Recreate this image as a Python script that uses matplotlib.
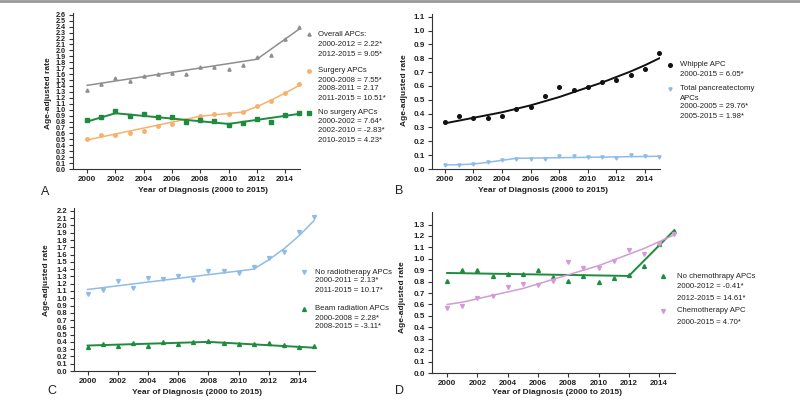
import matplotlib
matplotlib.use("Agg")
import matplotlib.pyplot as plt
from matplotlib.lines import Line2D
import numpy as np

plt.rcParams['font.family'] = ['Liberation Sans', 'DejaVu Sans']

years = list(range(2000, 2016))

# Panel A
overall = [1.34, 1.44, 1.53, 1.49, 1.56, 1.61, 1.62, 1.61, 1.72, 1.72, 1.68, 1.76, 1.89, 1.93, 2.20, 2.39]
overall_fit_x = [2000, 2012, 2015]
overall_fit_y = [1.41, 1.85, 2.36]
surgery = [0.51, 0.58, 0.57, 0.60, 0.64, 0.73, 0.76, 0.82, 0.90, 0.92, 0.93, 0.96, 1.06, 1.14, 1.28, 1.44]
surgery_fit_x = [2000, 2008, 2011, 2012, 2013, 2014, 2015]
surgery_fit_y = [0.49, 0.89, 0.96, 1.05, 1.16, 1.28, 1.41]
nosurgery = [0.83, 0.87, 0.97, 0.89, 0.93, 0.88, 0.87, 0.79, 0.82, 0.81, 0.74, 0.78, 0.84, 0.79, 0.91, 0.94]
nosurgery_fit_x = [2000, 2002, 2010, 2015]
nosurgery_fit_y = [0.80, 0.94, 0.76, 0.93]

# Panel B
whipple = [0.34, 0.38, 0.37, 0.37, 0.38, 0.43, 0.45, 0.53, 0.59, 0.57, 0.59, 0.63, 0.64, 0.68, 0.72, 0.84]
whipple_fit = [0.33, 0.35, 0.37, 0.39, 0.41, 0.435, 0.46, 0.49, 0.52, 0.555, 0.59, 0.625, 0.665, 0.705, 0.75, 0.80]
totalpan = [0.03, 0.03, 0.035, 0.05, 0.065, 0.075, 0.075, 0.07, 0.095, 0.095, 0.085, 0.085, 0.078, 0.104, 0.094, 0.09]
totalpan_fit_x = [2000, 2001, 2002, 2003, 2004, 2005, 2015]
totalpan_fit_y = [0.029, 0.031, 0.036, 0.048, 0.063, 0.077, 0.092]

# Panel C
noradio = [1.06, 1.12, 1.24, 1.14, 1.28, 1.26, 1.31, 1.25, 1.38, 1.38, 1.34, 1.43, 1.55, 1.63, 1.91, 2.11]
noradio_fit_x = [2000, 2011, 2012, 2013, 2014, 2015]
noradio_fit_y = [1.12, 1.40, 1.53, 1.68, 1.86, 2.07]
beam = [0.33, 0.37, 0.34, 0.39, 0.34, 0.40, 0.37, 0.40, 0.41, 0.39, 0.37, 0.37, 0.38, 0.36, 0.33, 0.34]
beam_fit_x = [2000, 2008, 2015]
beam_fit_y = [0.35, 0.40, 0.32]

# Panel D
nochemo = [0.81, 0.90, 0.90, 0.85, 0.87, 0.87, 0.90, 0.84, 0.81, 0.85, 0.80, 0.83, 0.86, 0.94, 1.13, 1.24]
nochemo_fit_x = [2000, 2012, 2015]
nochemo_fit_y = [0.876, 0.85, 1.25]
chemo = [0.57, 0.59, 0.66, 0.67, 0.75, 0.78, 0.77, 0.81, 0.97, 0.92, 0.92, 0.98, 1.08, 1.04, 1.13, 1.22]
chemo_fit = [0.60, 0.62, 0.65, 0.68, 0.71, 0.74, 0.78, 0.82, 0.86, 0.90, 0.94, 0.99, 1.04, 1.09, 1.15, 1.21]

GRAY = '#8e8e8e'
ORANGE = '#f6b26b'
GREEN = '#1f8b3e'
BLUE = '#8fbbe8'
BLACK = '#111111'
PINK = '#d39bd6'
TXT = '#222222'

W, H = 800, 401
fig = plt.figure(figsize=(8, 4.01), dpi=100)


def px(x, y):
    return x / W, 1 - y / H


def make_ax(left, top, right, bottom, ymax, yticks, xmin, ytick_fs, xlab, ylab):
    l, t = px(left, top)
    r, b = px(right, bottom)
    ax = fig.add_axes([l, b, r - l, t - b])
    ax.set_xlim(xmin, 2015.05)
    ax.set_ylim(0, ymax)
    ax.set_yticks(yticks)
    ax.set_yticklabels(['%.1f' % v for v in yticks], fontsize=ytick_fs, fontweight='bold', color=TXT)
    ax.set_xticks(range(2000, 2015, 2))
    ax.set_xticklabels([str(v) for v in range(2000, 2015, 2)], fontsize=5.8, fontweight='bold', color=TXT)
    for s in ['top', 'right']:
        ax.spines[s].set_visible(False)
    for s in ['left', 'bottom']:
        ax.spines[s].set_linewidth(0.8)
        ax.spines[s].set_color('#333333')
    ax.tick_params(length=3, width=0.8, pad=2, color='#333333')
    fig.text(xlab[0] / W, 1 - xlab[1] / H, 'Year of Diagnosis (2000 to 2015)', fontsize=6,
             fontweight='bold', ha='center', va='center', color=TXT)
    fig.text(ylab[0] / W, 1 - ylab[1] / H, 'Age-adjusted rate', fontsize=6, rotation=90,
             fontweight='bold', ha='center', va='center', color=TXT)
    return ax


def legend(entries, mx, tx):
    for y, marker, color, ms, text in entries:
        if marker:
            fig.add_artist(Line2D([mx / W], [1 - y / H], marker=marker, color=color,
                                  markersize=ms, linestyle='none'))
        fig.text(tx / W, 1 - y / H, text, fontsize=5.6, va='center', ha='left', color=TXT)


# A
axA = make_ax(73, 13, 300, 169, 2.63, np.round(np.arange(0, 2.61, 0.1), 1), 1999.0, 5.2,
              (203, 190), (48, 93))
axA.plot(overall_fit_x, overall_fit_y, color=GRAY, lw=1.1)
axA.plot(years, overall, '^', color=GRAY, ms=2.3, clip_on=False)
axA.plot(surgery_fit_x, surgery_fit_y, color=ORANGE, lw=1.1)
axA.plot(years, surgery, 'o', color=ORANGE, ms=2.5, clip_on=False)
axA.plot(nosurgery_fit_x, nosurgery_fit_y, color=GREEN, lw=1.4)
axA.plot(years, nosurgery, 's', color=GREEN, ms=2.8, clip_on=False)
legend([
    (34, '^', GRAY, 2.3, 'Overall APCs:'),
    (45, None, None, 0, '2000-2012 = 2.22*'),
    (54, None, None, 0, '2012-2015 = 9.05*'),
    (71, 'o', ORANGE, 2.5, 'Surgery APCs'),
    (80, None, None, 0, '2000-2008 = 7.55*'),
    (89, None, None, 0, '2008-2011 = 2.17'),
    (98, None, None, 0, '2011-2015 = 10.51*'),
    (113, 's', GREEN, 2.8, 'No surgery APCs'),
    (122, None, None, 0, '2000-2002 = 7.64*'),
    (131, None, None, 0, '2002-2010 = -2.83*'),
    (140, None, None, 0, '2010-2015 = 4.23*'),
], 309, 318)

# B
axB = make_ax(432, 14, 660, 169, 1.12, np.round(np.arange(0, 1.11, 0.1), 1), 1999.1, 5.8,
              (543, 191), (405, 90))
axB.plot(years, whipple_fit, color=BLACK, lw=1.4)
axB.plot(years, whipple, 'o', color=BLACK, ms=2.6, clip_on=False)
axB.plot(totalpan_fit_x, totalpan_fit_y, color=BLUE, lw=1.1)
axB.plot(years, totalpan, 'v', color=BLUE, ms=2.3, clip_on=False)
legend([
    (65, 'o', BLACK, 2.6, 'Whipple APC'),
    (74, None, None, 0, '2000-2015 = 6.05*'),
    (89, 'v', BLUE, 2.3, 'Total pancreatectomy'),
    (98, None, None, 0, 'APCs'),
    (107, None, None, 0, '2000-2005 = 29.76*'),
    (117, None, None, 0, '2005-2015 = 1.98*'),
], 670, 680)

# C
axC = make_ax(74, 208, 315, 371, 2.24, np.round(np.arange(0, 2.21, 0.1), 1), 1999.1, 5.5,
              (197, 393), (47, 280))
axC.plot(noradio_fit_x, noradio_fit_y, color=BLUE, lw=1.1)
axC.plot(years, noradio, 'v', color=BLUE, ms=2.8, clip_on=False)
axC.plot(beam_fit_x, beam_fit_y, color=GREEN, lw=1.4)
axC.plot(years, beam, '^', color=GREEN, ms=2.8, clip_on=False)
legend([
    (272, 'v', BLUE, 2.8, 'No radiotherapy APCs'),
    (281, None, None, 0, '2000-2011 = 2.13*'),
    (290, None, None, 0, '2011-2015 = 10.17*'),
    (309, '^', GREEN, 2.8, 'Beam radiation APCs'),
    (318, None, None, 0, '2000-2008 = 2.28*'),
    (327, None, None, 0, '2008-2015 = -3.11*'),
], 304, 315)

# D
axD = make_ax(432, 212, 675, 373, 1.41, np.round(np.arange(0, 1.31, 0.1), 1), 1999.0, 5.8,
              (557, 392), (403, 297))
axD.plot(nochemo_fit_x, nochemo_fit_y, color=GREEN, lw=1.4)
axD.plot(years, nochemo, '^', color=GREEN, ms=2.8, clip_on=False)
axD.plot(years, chemo_fit, color=PINK, lw=1.1)
axD.plot(years, chemo, 'v', color=PINK, ms=2.8, clip_on=False)
legend([
    (276, '^', GREEN, 2.8, 'No chemothrapy APCs'),
    (287, None, None, 0, '2000-2012 = -0.41*'),
    (298, None, None, 0, '2012-2015 = 14.61*'),
    (311, 'v', PINK, 2.8, 'Chemotherapy APC'),
    (322, None, None, 0, '2000-2015 = 4.70*'),
], 663, 677)

# panel letters
for (x, y, s) in [(45, 192, 'A'), (399, 191, 'B'), (52, 391, 'C'), (400, 391, 'D')]:
    fig.text(x / W, 1 - y / H, s, fontsize=9, va='center', ha='center', color=TXT)

# top rule
fig.add_artist(Line2D([0, 1], [1 - 1 / H, 1 - 1 / H], color='#999999', lw=2))

fig.savefig('out.png', dpi=100)
